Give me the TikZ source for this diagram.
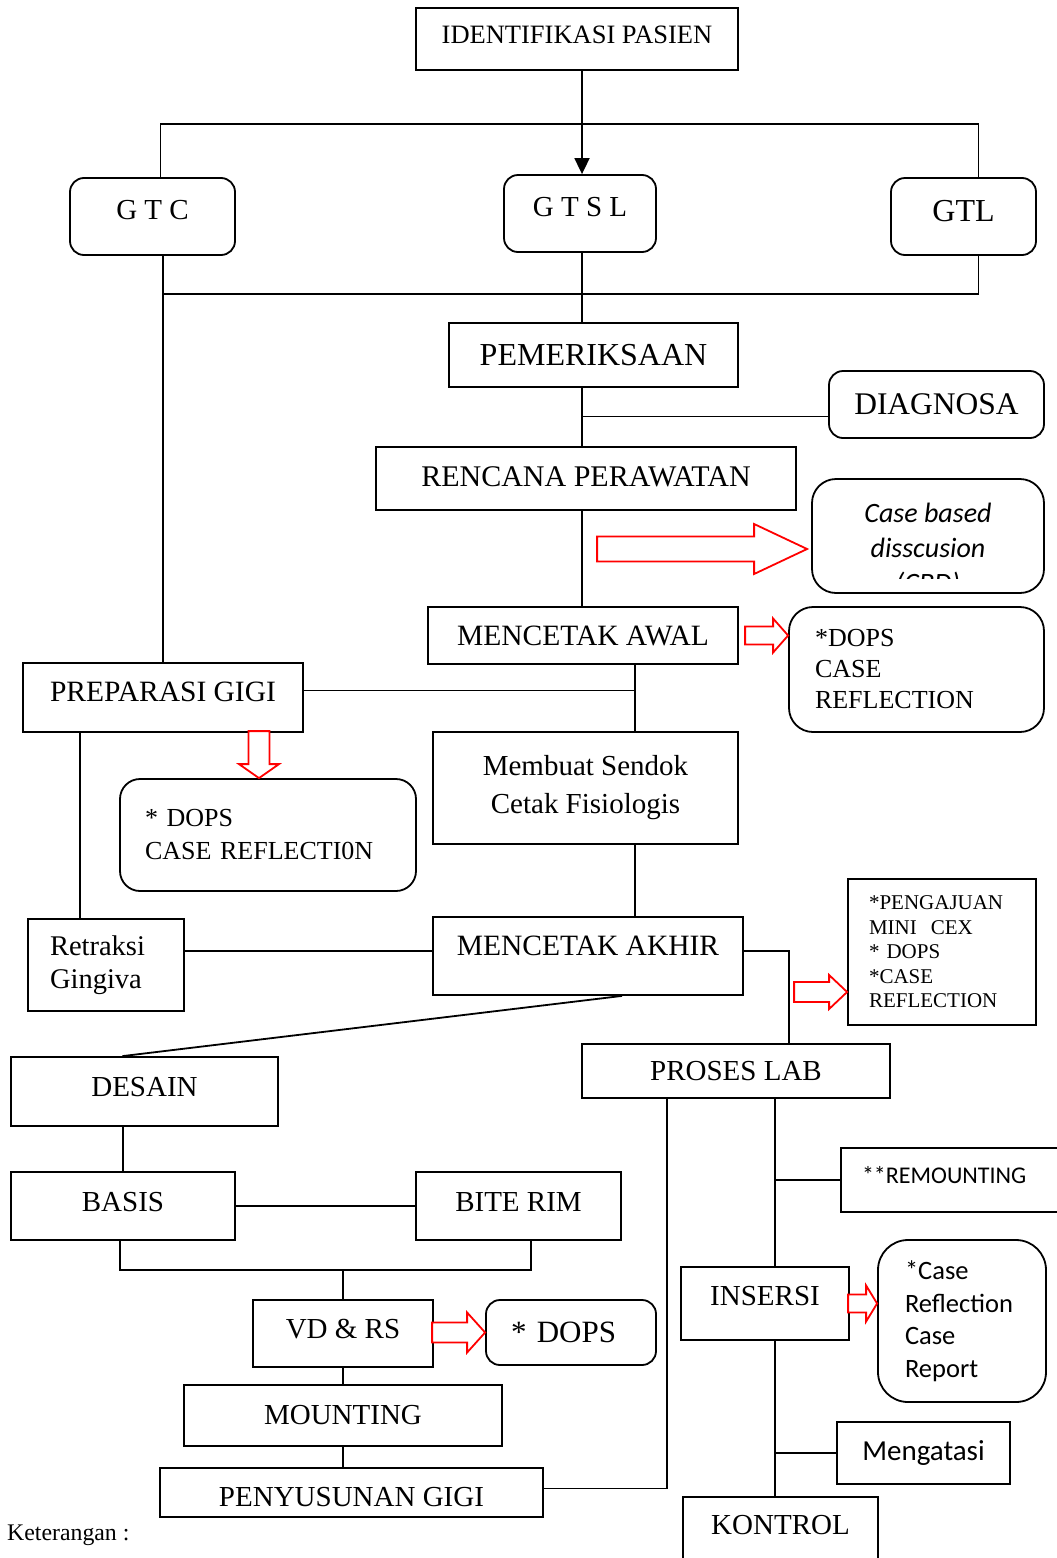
\documentclass[tikz,border=0pt]{standalone}
\usepackage{fontspec}
\setmainfont{Liberation Serif}
\newfontfamily\calibri{Carlito}
\usetikzlibrary{arrows.meta}
\newcommand{\fsz}[2]{\fontsize{#1pt}{#2pt}\selectfont}
\tikzstyle{process} = [rectangle, draw=black, line width=1.8pt, text centered, inner sep=0pt, font=\fsz{29}{34}]
\tikzstyle{process1} = [process, rounded corners=14pt]
\tikzstyle{note} = [process, align=left]
\tikzstyle{line} = [draw, line width=1.8pt]
\tikzstyle{arrow} = [line, -{Triangle[length=16pt,width=15pt]}]
\tikzstyle{redarrow} = [draw=red, line width=1.8pt, fill=white, line join=miter]
% block arrow: [rotation]{tip}{length}{head length}{shaft half}{head half}
\newcommand{\redarrow}[6][0]{%
  \begin{scope}[shift={(#2)}, rotate=#1]
    \draw[redarrow] (0pt,0pt) -- (-#4pt,#6pt) -- (-#4pt,#5pt) -- (-#3pt,#5pt)
      -- (-#3pt,-#5pt) -- (-#4pt,-#5pt) -- (-#4pt,-#6pt) -- cycle;
  \end{scope}}

\begin{document}
\begin{tikzpicture}[x=1pt, y=-1pt]
    \useasboundingbox (0,0) rectangle (1057,1558);
    % top part
    \node (ident) [process, minimum width=322pt, minimum height=62pt, text depth=8pt, font=\fsz{26.5}{30}] at (577,39) {IDENTIFIKASI PASIEN};
    \node (gtc) [process1, minimum width=165pt, minimum height=77pt, text depth=13pt] at (152.5,216.5) {G T C};
    \node (gtsl) [process1, minimum width=152pt, minimum height=77pt, text depth=13pt] at (580,213.5) {G T S L};
    \node (gtl) [process1, minimum width=145pt, minimum height=77pt, text depth=11pt, font=\fsz{32}{36}] at (963.5,216.5) {GTL};
    \node (pem) [process, minimum width=289pt, minimum height=64pt, font=\fsz{32}{36}] at (593.5,355) {PEMERIKSAAN};
    \node (diag) [process1, minimum width=215pt, minimum height=67pt, font=\fsz{31.5}{36}] at (936.5,404.5) {DIAGNOSA};
    \node (ren) [process, minimum width=420pt, minimum height=63pt, text depth=4pt, font=\fsz{30}{34}] at (586,478.5) {RENCANA PERAWATAN};
    \node (cbd) [process1, rounded corners=24pt, minimum width=232pt, minimum height=114pt] at (928,536) {};
    \begin{scope}
        \clip (cbd.north west) rectangle ([yshift=15pt]cbd.south east);
        \node (cbdtext) [align=center, font=\calibri\itshape\fsz{28}{35}] at ([yshift=-14pt]cbd.center) {Case based\\disscusion\\(CBD)};
    \end{scope}
    \node (awal) [process, minimum width=310pt, minimum height=57pt, font=\fsz{29.5}{34}] at (583,635.5) {MENCETAK AWAL};
    \node (dops1) [note, rounded corners=24pt, inner xsep=26pt, text width=203pt, minimum height=125pt, font=\fsz{26}{31}] at (916.5,669.5) {*DOPS\\CASE\\REFLECTION};
    \node (prep) [process, minimum width=280pt, minimum height=69pt, text depth=11pt, font=\fsz{29.5}{34}] at (163,697.5) {PREPARASI GIGI};
    \node (dops2) [note, rounded corners=20pt, inner xsep=25pt, text width=246pt, minimum height=112pt, font=\fsz{26}{33}] at (268,835) {* DOPS\\CASE REFLECTI0N};
    \node (sendok) [process, minimum width=305pt, minimum height=112pt, align=center, font=\fsz{29}{38}] at (585.5,788) {Membuat Sendok\\Cetak Fisiologis};
    \node (ret) [note, inner xsep=22pt, text width=112pt, minimum height=92pt, font=\fsz{28.5}{33}] at (106,965) {Retraksi\\Gingiva};
    \node (akhir) [process, minimum width=310pt, minimum height=78pt, text depth=20pt, font=\fsz{29.5}{34}] at (588,956) {MENCETAK AKHIR};
    \node (mini) [note, inner xsep=21pt, text width=146pt, minimum height=146pt, font=\fsz{21}{24.5}] at (942,952) {*PENGAJUAN\\MINI~~CEX\\{*} DOPS\\{*}CASE\\REFLECTION};
    % left branch
    \node (desain) [process, minimum width=267pt, minimum height=69pt, text depth=9pt] at (144.5,1091.5) {DESAIN};
    \node (basis) [process, minimum width=224pt, minimum height=68pt, text depth=9pt] at (123,1206) {BASIS};
    \node (bite) [process, minimum width=205pt, minimum height=68pt, text depth=9pt] at (518.5,1206) {BITE RIM};
    \node (vd) [process, minimum width=180pt, minimum height=67pt, text depth=9pt] at (343,1333.5) {VD \& RS};
    \node (dops3) [note, rounded corners=14pt, inner xsep=25pt, text width=120pt, minimum height=65pt, font=\fsz{31}{36}] at (571,1332.5) {* DOPS};
    \node (mount) [process, minimum width=318pt, minimum height=61pt] at (343,1415.5) {MOUNTING};
    \node (peny) [process, minimum width=383pt, minimum height=49pt, text height=28pt] at (351.5,1492.5) {PENYUSUNAN GIGI};
    % right branch
    \node (lab) [process, minimum width=308pt, minimum height=54pt] at (736,1071) {PROSES LAB};
    \node (remount) [note, inner xsep=21pt, text width=187pt, minimum height=64pt, text depth=10pt, font=\calibri\fsz{24}{28}] at (955.5,1180) {**REMOUNTING};
    \node (ins) [process, minimum width=168pt, minimum height=73pt, text depth=15pt] at (765,1303.5) {INSERSI};
    \node (cr) [note, rounded corners=30pt, inner xsep=27pt, text width=114pt, minimum height=162pt, font=\calibri\fsz{26.5}{32.5}] at (962,1321) {*Case\\Reflection\\Case\\Report};
    \node (meng) [process, minimum width=173pt, minimum height=62pt, font=\calibri\fsz{29}{32}] at (923.5,1453) {Mengatasi};
    \node (kon) [process, anchor=north, minimum width=195pt, inner ysep=8pt, text height=30pt, text depth=50pt] at (780.5,1496) {KONTROL};
    \node (ket) [anchor=west, inner sep=0pt, font=\fsz{23.8}{26}] at (7,1535) {Keterangan :};

    % connectors
    \coordinate (spine) at (582,0);
    \coordinate (bar) at (0,294);
    \coordinate (spine2) at (635,0);
    \coordinate (spine3) at (80,0);
    \coordinate (join) at (343,1270);
    \coordinate (spine5) at (667,0);
    \coordinate (spine6) at (775,0);
    \draw[arrow] (spine |- ident.south) -- (spine |- gtsl.north);
    \draw[line] ([xshift=8pt]gtc.north) -- ++(0,-53) -| ([xshift=15pt]gtl.north);
    \draw[line] ([xshift=15pt]gtl.south) |- (prep.north |- bar);
    \draw[line] (prep.north |- gtc.south) -- (prep.north);
    \draw[line] (spine |- gtsl.south) -- (spine |- pem.north);
    \draw[line] (spine |- pem.south) -- (spine |- ren.north);
    \draw[line] ([yshift=-12pt]diag.west) -| (spine |- pem.south);
    \draw[line] (spine |- ren.south) -- (spine |- awal.north);
    \draw[line] (spine2 |- awal.south) -- (spine2 |- sendok.north);
    \draw[line] ([yshift=7pt]prep.east) -| (spine2 |- sendok.north);
    \draw[line] (spine2 |- sendok.south) -- (spine2 |- akhir.north);
    \draw[line] (spine3 |- prep.south) -- (spine3 |- ret.north);
    \draw[line] ([yshift=14pt]ret.east) -- ([yshift=5pt]akhir.west);
    \draw[line] ([yshift=5pt]akhir.east) -| ([xshift=53pt]lab.north);
    \draw[line] ([xshift=34pt]akhir.south) -- ([xshift=-22pt]desain.north);
    \draw[line] (desain.south -| basis.north) -- (basis.north);
    \draw[line] (basis) -- (bite);
    \draw[line] ([xshift=-3pt]basis.south) |- (join) -| ([xshift=12.5pt]bite.south);
    \draw[line] (join) -- (vd.north);
    \draw[line] (vd) -- (mount);
    \draw[line] (mount.south) -- (mount.south |- peny.north);
    \draw[line] ([yshift=4pt]peny.east) -| (spine5 |- lab.south);
    \draw[line] (spine6 |- lab.south) -- (spine6 |- ins.north);
    \draw[line] (spine6 |- remount.west) -- (remount.west);
    \draw[line] (spine6 |- ins.south) -- (spine6 |- kon.north);
    \draw[line] (spine6 |- meng.west) -- (meng.west);

    % red block arrows
    \redarrow{[xshift=-4pt,yshift=-13pt]cbd.west}{210}{53}{12.5}{25}
    \redarrow{dops1.west |- awal.east}{43}{15}{9}{17}
    \redarrow[-90]{[xshift=-9pt]dops2.north}{47}{14}{10.5}{20}
    \redarrow{[yshift=-40pt]mini.west}{53}{18}{10}{17}
    \redarrow{dops3.west}{53}{18}{10}{20}
    \redarrow{cr.west |- ins.east}{29}{11}{9}{18}
\end{tikzpicture}
\end{document}
